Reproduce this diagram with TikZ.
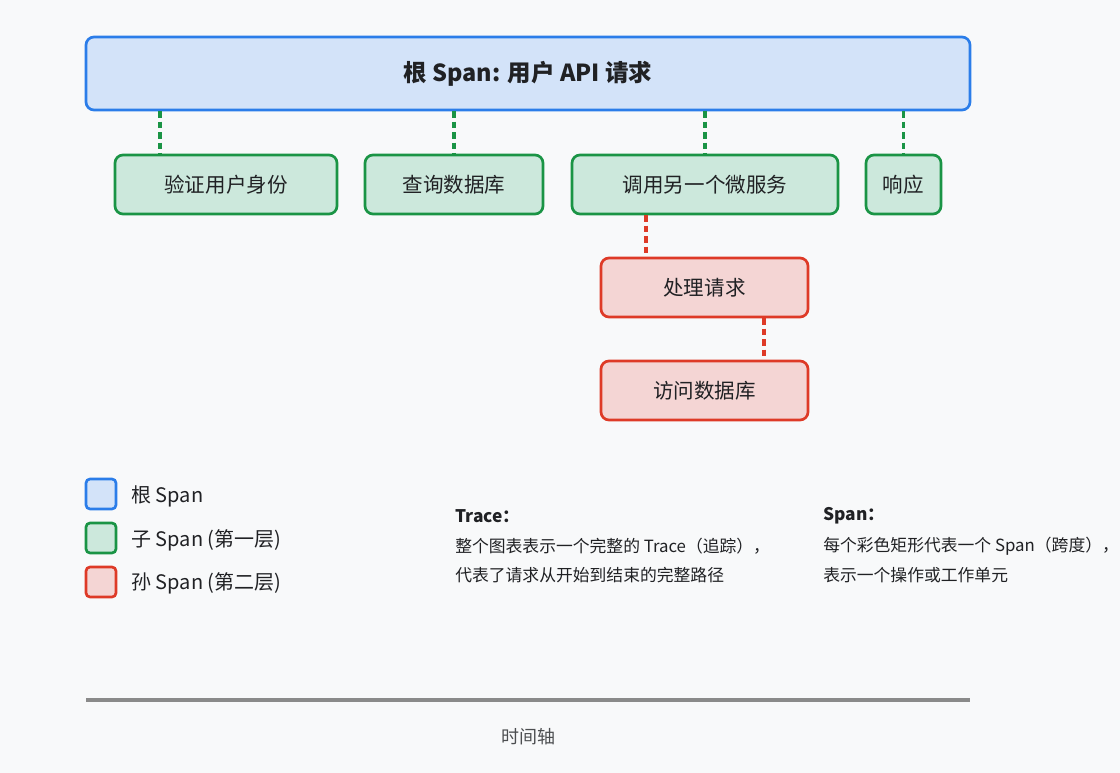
\documentclass[tikz,border=0pt]{standalone}
\usepackage{fontspec}
\setmainfont{Noto Sans CJK SC}
\usetikzlibrary{positioning}
\definecolor{bgcol}{HTML}{F8F9FA}
\definecolor{inkcol}{HTML}{202124}
\definecolor{rootline}{HTML}{2B7DE9}
\definecolor{rootfill}{HTML}{D3E3F9}
\definecolor{childline}{HTML}{1A9445}
\definecolor{childfill}{HTML}{CCE8DC}
\definecolor{grandline}{HTML}{DE3A27}
\definecolor{grandfill}{HTML}{F4D5D4}
\definecolor{axiscol}{HTML}{8A8A8A}
\tikzstyle{spanbox}=[rounded corners=6pt,line width=2pt,inner sep=0pt,
  text=inkcol,font=\fontsize{15.4}{18}\selectfont]
\tikzstyle{rootspan}=[spanbox,draw=rootline,fill=rootfill,minimum height=54.75pt,
  font=\fontsize{17.6}{20}\selectfont\bfseries]
\tikzstyle{childspan}=[spanbox,draw=childline,fill=childfill,minimum height=44.25pt]
\tikzstyle{grandspan}=[spanbox,draw=grandline,fill=grandfill,minimum height=44.25pt]
\tikzstyle{childlink}=[draw=childline,line width=2.4pt,dash pattern=on 5pt off 2.8pt]
\tikzstyle{grandlink}=[draw=grandline,line width=2.4pt,dash pattern=on 5pt off 2.8pt]
\tikzstyle{keybox}=[rounded corners=3pt,line width=2pt,minimum size=22.5pt,inner sep=0pt]
\tikzstyle{keytext}=[anchor=west,inner sep=0pt,text=inkcol,font=\fontsize{15}{18}\selectfont]
\tikzstyle{note}=[anchor=west,inner sep=0pt,text=inkcol,font=\fontsize{12.6}{16}\selectfont]

\begin{document}
\begin{tikzpicture}[x=0.75pt,y=-0.75pt]

\useasboundingbox (0,0) rectangle (1120,773);
\fill[bgcol] (0,0) rectangle (1120,773);

% spans
\node[rootspan,minimum width=663pt]     (root)   at (528,73.5)    {根 Span: 用户 API 请求};
\node[childspan,minimum width=166.5pt]  (auth)   at (226,184.5)   {验证用户身份};
\node[childspan,minimum width=133.5pt]  (query)  at (454,184.5)   {查询数据库};
\node[childspan,minimum width=199.5pt]  (call)   at (705,184.5)   {调用另一个微服务};
\node[childspan,minimum width=56.25pt]  (reply)  at (903.5,184.5) {响应};
\node[grandspan,minimum width=155.25pt] (handle) at (704.5,287.5) {处理请求};
\node[grandspan,minimum width=155.25pt] (access) at (704.5,390.5) {访问数据库};

\coordinate (authtop)   at ([xshift=-49.5pt]auth.north);
\coordinate (handletop) at ([xshift=-43.9pt]handle.north);
\coordinate (accesstop) at ([xshift=44.6pt]access.north);

\path[childlink] (root.south -| authtop) -- (authtop)
      (root.south -| query.north) -- (query.north)
      (root.south -| call.north) -- (call.north)
      (root.south -| reply.north) -- (reply.north);
\path[grandlink] (call.south -| handletop) -- (handletop)
      (handle.south -| accesstop) -- (accesstop);

% legend
\node[keybox,draw=rootline,fill=rootfill]   (keyroot)  at (101,494) {};
\node[keybox,draw=childline,fill=childfill] (keychild) at (101,538) {};
\node[keybox,draw=grandline,fill=grandfill] (keygrand) at (101,582) {};
\node[keytext] (keyroottext)  at (131,496) {根 Span};
\node[keytext] (keychildtext) at (131,540) {子 Span (第一层)};
\node[keytext] (keygrandtext) at (131,583) {孙 Span (第二层)};

% notes
\node[note,font=\fontsize{13}{16}\selectfont\bfseries] (tracehead) at (455,516) {Trace：};
\node[note] (traceone) at (455,546) {整个图表表示一个完整的 Trace（追踪），};
\node[note] (tracetwo) at (455,575) {代表了请求从开始到结束的完整路径};
\node[note,font=\fontsize{13}{16}\selectfont\bfseries] (spanhead) at (823,516) {Span：};
\node[note] (spanone) at (823,546) {每个彩色矩形代表一个 Span（跨度），};
\node[note] (spantwo) at (823,575) {表示一个操作或工作单元};

% time axis
\coordinate (axisleft)  at (86,700);
\coordinate (axisright) at (970,700);
\draw[axiscol,line width=2.6pt] (axisleft) -- (axisright);
\node[text=inkcol!80,font=\fontsize{13.5}{16}\selectfont] (axislabel) at (528,737) {时间轴};

\end{tikzpicture}
\end{document}
